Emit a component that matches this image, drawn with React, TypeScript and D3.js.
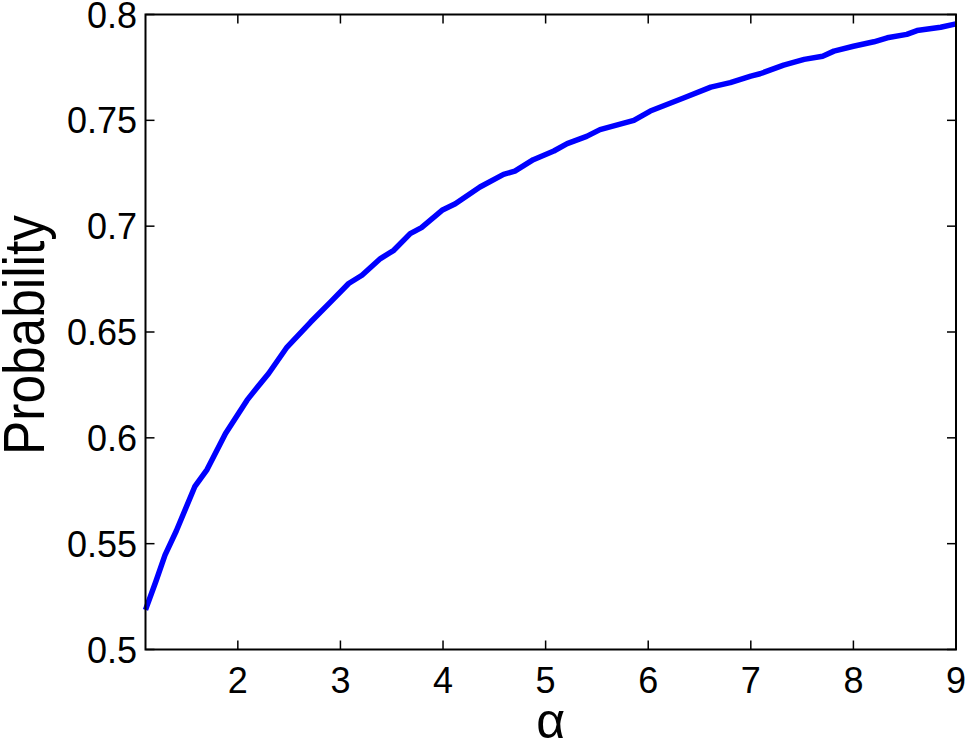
import React from "react";
import * as d3 from "d3";

const alphaValues = [1.1, 1.2, 1.29, 1.4, 1.58, 1.7, 1.88, 2.09, 2.2, 2.3, 2.48, 2.71, 2.9, 3.08, 3.21, 3.39, 3.52, 3.68, 3.79, 3.99, 4.12, 4.36, 4.59, 4.7, 4.88, 5.08, 5.21, 5.4, 5.53, 5.86, 6.02, 6.35, 6.61, 6.8, 7.0, 7.09, 7.32, 7.52, 7.7, 7.81, 8.0, 8.2, 8.33, 8.52, 8.62, 8.85, 9.0];
const probValues = [0.5187, 0.5320, 0.5446, 0.5560, 0.5769, 0.5850, 0.6021, 0.6178, 0.6245, 0.6304, 0.6429, 0.6547, 0.6640, 0.6729, 0.6768, 0.6847, 0.6886, 0.6965, 0.6993, 0.7075, 0.7106, 0.7185, 0.7245, 0.7260, 0.7314, 0.7355, 0.7390, 0.7424, 0.7456, 0.7500, 0.7544, 0.7607, 0.7657, 0.7678, 0.7709, 0.7720, 0.7761, 0.7788, 0.7803, 0.7827, 0.7850, 0.7871, 0.7890, 0.7906, 0.7924, 0.7940, 0.7956];
const xTicks = [2, 3, 4, 5, 6, 7, 8, 9];
const yTicks = [0.5, 0.55, 0.6, 0.65, 0.7, 0.75, 0.8];
const yTickLabels = ["0.5", "0.55", "0.6", "0.65", "0.7", "0.75", "0.8"];

const W = 969, H = 743;
const L = 145.5, R = 956, T = 14.5, B = 649.5;

export default function App() {
  const x = d3.scaleLinear().domain([1.1, 9]).range([L, R]);
  const y = d3.scaleLinear().domain([0.5, 0.8]).range([B, T]);
  const data = alphaValues.map((a, i) => [a, probValues[i]] as [number, number]);
  const line = d3.line<[number, number]>().x(d => x(d[0])).y(d => y(d[1]));
  const tl = 9;
  const font = "'Liberation Sans', Arial, Helvetica, sans-serif";
  return (
    <svg width={W} height={H} style={{ position: "absolute", left: 0, top: 0, background: "#fff" }} fontFamily={font}>
      <rect x={0} y={0} width={W} height={H} fill="#fff" />
      <path d={line(data) || ""} fill="none" stroke="#0000ff" strokeWidth={5.5} strokeLinejoin="round" />
      <g stroke="#000" strokeWidth={1.5}>
        {xTicks.map(t => (
          <g key={"x" + t}>
            <line x1={x(t)} x2={x(t)} y1={B} y2={B - tl} />
            <line x1={x(t)} x2={x(t)} y1={T} y2={T + tl} />
          </g>
        ))}
        {yTicks.map(t => (
          <g key={"y" + t}>
            <line x1={L} x2={L + tl} y1={y(t)} y2={y(t)} />
            <line x1={R} x2={R - tl} y1={y(t)} y2={y(t)} />
          </g>
        ))}
        <rect x={L} y={T} width={R - L} height={B - T} fill="none" strokeWidth={2} />
      </g>
      <g fontSize={36} fill="#000">
        {xTicks.map(t => (
          <text key={"xl" + t} x={x(t)} y={693} textAnchor="middle">{t}</text>
        ))}
        {yTicks.map((t, i) => (
          <text key={"yl" + t} x={137} y={y(t) + 13} textAnchor="end">{yTickLabels[i]}</text>
        ))}
      </g>
      <text x={0} y={0} transform={`translate(44, ${(T + B) / 2 + 3}) rotate(-90)`} textAnchor="middle" fontSize={58} textLength={240} lengthAdjust="spacingAndGlyphs" fill="#000">Probability</text>
      <text x={(L + R) / 2} y={738} textAnchor="middle" fontSize={50} fill="#000">α</text>
    </svg>
  );
}
